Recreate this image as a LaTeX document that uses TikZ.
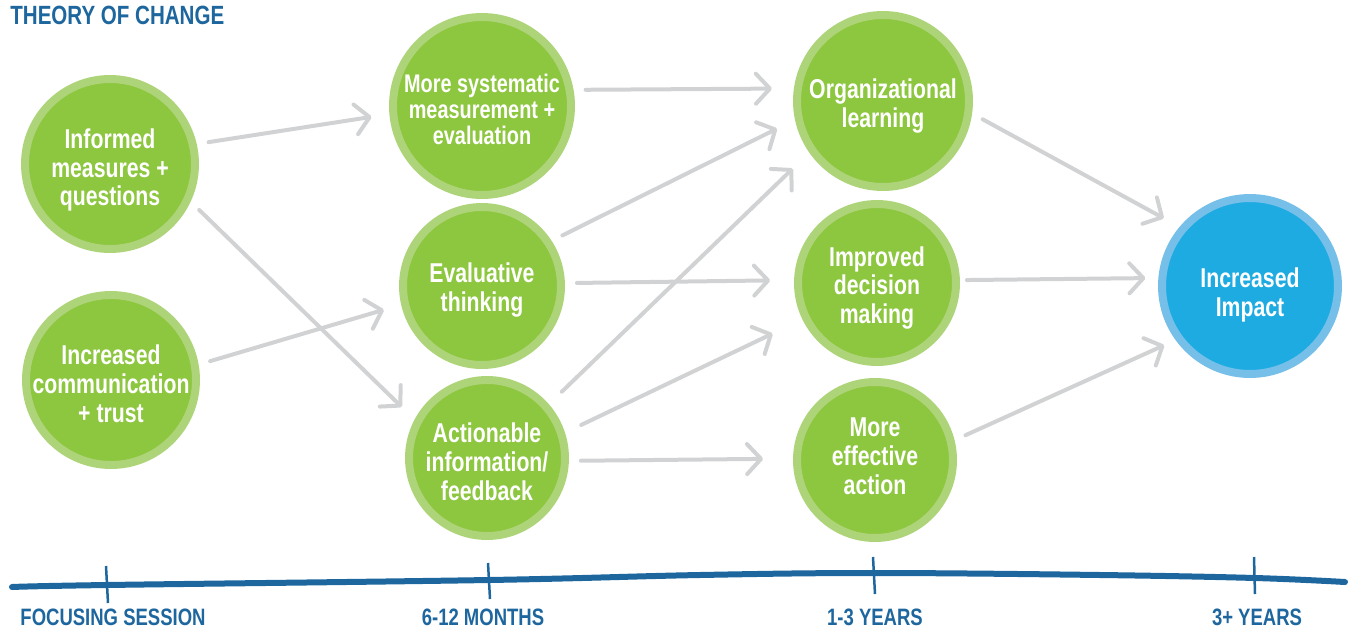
\documentclass[tikz,border=0pt]{standalone}
\usepackage{fontspec}
\setmainfont{Liberation Sans}[FakeStretch=0.78]
\usetikzlibrary{arrows.meta}

\definecolor{leaf}{HTML}{8DC63F}
\definecolor{leafring}{HTML}{AED47A}
\definecolor{sky}{HTML}{1EABE2}
\definecolor{skyring}{HTML}{76BFE9}
\definecolor{arrowgray}{HTML}{D1D2D4}
\definecolor{ink}{HTML}{1D669E}

\begin{document}
\begin{tikzpicture}[x=0.02cm, y=-0.02cm,
    bubble/.style={circle, fill=leaf, draw=leafring, line width=0.16cm, minimum size=#1,
        inner sep=0pt, outer sep=0.08cm},
    impact/.style={bubble=#1, fill=sky, draw=skyring},
    words/.style={text=white, align=center, inner sep=0pt,
        font=\bfseries\fontsize{15.5}{16.4}\selectfont},
    link/.style={color=arrowgray, line width=0.08cm, line cap=round,
        -{Straight Barb[length=0.28cm, width=0.6cm, round]},
        shorten <=0.24cm, shorten >=0.36cm},
    tick/.style={draw=ink, line width=0.05cm},
    era/.style={anchor=base, text=ink, font=\bfseries\fontsize{13.5}{16}\selectfont}]
    \useasboundingbox (0,0) rectangle (1353,629);

    \node[anchor=base west, inner sep=0pt, text=ink, font=\bfseries\fontsize{15}{18}\selectfont] (title) at (10,24) {THEORY OF CHANGE};

    % focusing session
    \node[bubble=3.4cm] (c1) at (110,164) {};
    \node[bubble=3.4cm] (c2) at (111,380) {};
    \node[words] (t1) at ([yshift=-0.12cm]c1) {Informed\\measures +\\questions};
    \node[words] (t2) at ([yshift=-0.08cm]c2) {Increased\\communication\\+ trust};

    % 6-12 months
    \node[bubble=3.56cm] (c3) at (482,106) {};
    \node[bubble=3.16cm] (c4) at (482,286) {};
    \node[bubble=3.12cm] (c5) at (487,458) {};
    \node[words, font=\bfseries\fontsize{14.5}{14.8}\selectfont] (t3) at ([yshift=-0.06cm]c3) {More systematic\\measurement +\\evaluation};
    \node[words] (t4) at ([yshift=-0.08cm]c4) {Evaluative\\thinking};
    \node[words] (t5) at ([yshift=-0.08cm]c5) {Actionable\\information/\\feedback};

    % 1-3 years
    \node[bubble=3.44cm] (c6) at (883,101) {};
    \node[bubble=3.16cm] (c7) at (877,283) {};
    \node[bubble=3.12cm] (c8) at (875,460) {};
    \node[words] (t6) at ([yshift=-0.1cm]c6) {Organizational\\learning};
    \node[words] (t7) at ([yshift=-0.1cm]c7) {Improved\\decision\\making};
    \node[words] (t8) at ([yshift=0.08cm]c8) {More\\effective\\action};

    % 3+ years
    \node[impact=3.52cm] (c9) at (1250,286) {};
    \node[words] (t9) at ([yshift=-0.18cm]c9) {Increased\\Impact};

    \path[link]
        (c1.13) edge (c3.185)
        (c1.-25) edge (c5.152)
        (c2.10) edge (c4.193)
        (c3.10) edge[shorten >=0.44cm] (c6.172)
        (c4.33) edge[shorten >=0.4cm] (c6.192)
        (c5.41) edge[shorten <=0.36cm, shorten >=0.46cm] (c6.215)
        (c4.2) edge[shorten >=0.48cm] (c7.178)
        (c5.18) edge[shorten <=0.36cm, shorten >=0.66cm] (c7.206)
        (c5.-2) edge[shorten >=0.6cm] (c8.179)
        (c6.-8) edge (c9.140)
        (c7.2) edge[shorten <=0.14cm, shorten >=0.26cm] (c9.175)
        (c8.14) edge[shorten >=0.25cm] (c9.216)
    ;

    % timeline
    \draw[ink, line width=0.12cm, line cap=round] plot[smooth, tension=0.6]
        coordinates {(12,587) (107,585) (489,580) (700,575) (874,573) (1100,575) (1255,578) (1345,582)};
    \draw[tick] (106,566) -- (108,603);
    \draw[tick] (488,563) -- (490,599);
    \draw[tick] (873,557) -- (875,594);
    \draw[tick] (1254,557) -- (1255,594);

    \node[era] (e1) at (113,625) {FOCUSING SESSION};
    \node[era] (e2) at (483,625) {6-12 MONTHS};
    \node[era] (e3) at (875,625) {1-3 YEARS};
    \node[era] (e4) at (1257,625) {3+ YEARS};
\end{tikzpicture}
\end{document}
